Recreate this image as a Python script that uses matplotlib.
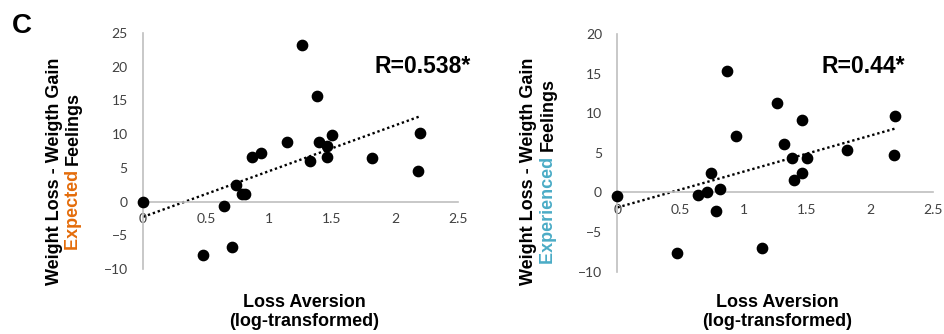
import matplotlib
matplotlib.use("Agg")
import matplotlib.pyplot as plt
import numpy as np

# loss aversion (log-transformed), one value per subject
loss_aversion = [0.0, 0.475, 0.64, 0.71, 0.737, 0.783, 0.813, 0.864, 0.94, 1.144,
                 1.263, 1.322, 1.378, 1.40, 1.462, 1.462, 1.50, 1.82, 2.186, 2.198]
# weight loss minus weight gain feelings
expected = [0.0, -7.9, -0.6, -6.7, 2.4, 1.1, 1.1, 6.6, 7.2, 8.8,
            23.2, 6.0, 15.6, 8.9, 8.2, 6.6, 9.8, 6.4, 4.5, 10.1]
experienced = [-0.4, -7.6, -0.3, 0.1, 2.4, -2.3, 0.5, 15.3, 7.1, -7.0,
               11.3, 6.1, 4.4, 1.6, 9.2, 2.4, 4.4, 5.3, 4.7, 9.6]
r_labels = ["R=0.538*", "R=0.44*"]
ylims = [(-10, 25), (-10, 20)]
yticks = [np.arange(-10, 26, 5), np.arange(-10, 21, 5)]
xticks = [0, 0.5, 1, 1.5, 2, 2.5]

ORANGE = "#E46C0A"
BLUE = "#4BACC6"
GREY = "#BFBFBF"

fig = plt.figure(figsize=(9.44, 3.34), dpi=100)
axes = [fig.add_axes([0.1515, 0.1946, 0.3337, 0.7066]),
        fig.add_axes([0.654, 0.1865, 0.3347, 0.7117])]
r_pos = [(1.04, 0.857), (0.91, 0.862)]

for ax, yvals, lim, yt, rl, rp in zip(axes, [expected, experienced], ylims, yticks, r_labels, r_pos):
    x = np.array(loss_aversion)
    y = np.array(yvals)
    ax.scatter(x, y, s=55, color="black", zorder=3, clip_on=False)
    k, b = np.polyfit(x, y, 1)
    xx = np.array([0, x.max()])
    ax.plot(xx, k * xx + b, color="black", lw=1.7, linestyle=(0, (1, 1.2)), zorder=2)
    ax.set_xlim(0, 2.5)
    ax.set_ylim(*lim)
    ax.set_xticks(xticks)
    ax.set_xticklabels(["0", "0.5", "1", "1.5", "2", "2.5"])
    ax.set_yticks(yt)
    for s in ["top", "right"]:
        ax.spines[s].set_visible(False)
    ax.spines["bottom"].set_position(("data", 0))
    for s in ["left", "bottom"]:
        ax.spines[s].set_color(GREY)
        ax.spines[s].set_linewidth(1.2)
    ax.tick_params(length=0, labelsize=10, labelcolor="#404040")
    ax.tick_params(axis="y", pad=11)
    ax.tick_params(axis="x", pad=8)
    for t in ax.get_xticklabels() + ax.get_yticklabels():
        t.set_fontfamily("Lato")
    ax.patch.set_alpha(0)
    ax.text(rp[0], rp[1], rl, transform=ax.transAxes, ha="right", va="center",
            fontsize=16.5, fontweight="bold", family="Liberation Sans")

bold = dict(fontsize=13, fontweight="bold", family="Liberation Sans")

fig.text(0.013, 0.901, "C", fontsize=20, fontweight="bold", family="Liberation Sans",
         ha="left", va="baseline")

# x axis titles
for cx in [0.322, 0.823]:
    fig.text(cx, 0.093, "Loss Aversion", ha="center", va="center", **bold)
    fig.text(cx, 0.036, "(log-transformed)", ha="center", va="center", **bold)

# y axis titles, second line has a coloured word
fig.canvas.draw()
renderer = fig.canvas.get_renderer()
for x1, x2, word, col in [(0.058, 0.078, "Expected", ORANGE),
                          (0.560, 0.581, "Experienced", BLUE)]:
    cy = 0.488
    fig.text(x1, cy, "Weight Loss - Weigth Gain", rotation=90, ha="center", va="center", **bold)
    t1 = fig.text(x2, 0, word + " ", rotation=90, ha="center", va="bottom", color=col, **bold)
    t2 = fig.text(x2, 0, "Feelings", rotation=90, ha="center", va="bottom", color="black", **bold)
    h1 = t1.get_window_extent(renderer).height / fig.bbox.height
    h2 = t2.get_window_extent(renderer).height / fig.bbox.height
    start = cy - (h1 + h2) / 2
    t1.set_y(start)
    t2.set_y(start + h1)

fig.savefig("out.png", dpi=100)
